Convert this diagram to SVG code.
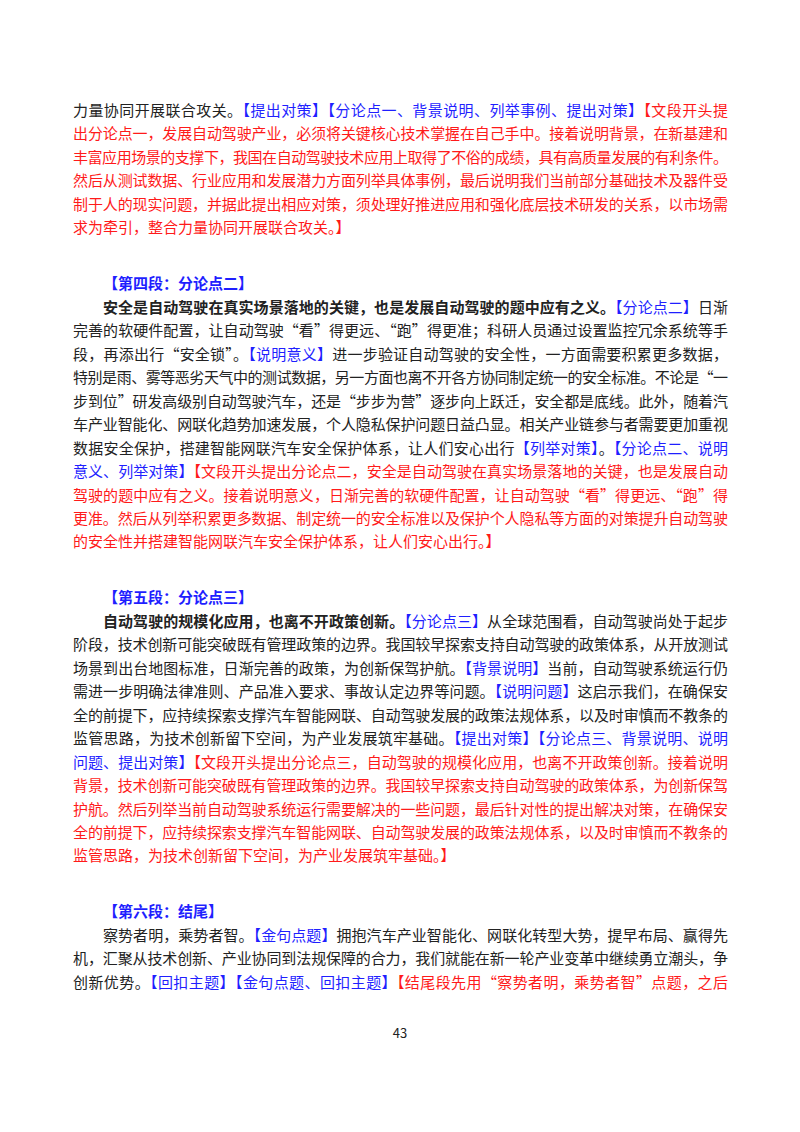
<svg xmlns="http://www.w3.org/2000/svg" width="800" height="1132" viewBox="0 0 800 1132">
<style>
text{font-family:"Microsoft YaHei","Noto Sans CJK SC",sans-serif;font-size:15px;fill:#222}
.b{fill:#1f1fff}.r{fill:#ff1a1a}.bd{font-weight:bold}
.f{}
</style>
<rect width="800" height="1132" fill="#fff"/>
<text x="73" y="115.5" textLength="655" lengthAdjust="spacing">力量协同开展联合攻关。<tspan class="b">【提出对策】【分论点一、背景说明、列举事例、提出对策】</tspan><tspan class="r">【文段开头提</tspan></text>
<text class="r" x="73" y="139" textLength="655" lengthAdjust="spacing">出分论点一，发展自动驾驶产业，必须将关键核心技术掌握在自己手中。接着说明背景，在新基建和</text>
<text class="r" x="73" y="162.5" textLength="655" lengthAdjust="spacing">丰富应用场景的支撑下，我国在自动驾驶技术应用上取得了不俗的成绩，具有高质量发展的有利条件。</text>
<text class="r" x="73" y="186" textLength="655" lengthAdjust="spacing">然后从测试数据、行业应用和发展潜力方面列举具体事例，最后说明我们当前部分基础技术及器件受</text>
<text class="r" x="73" y="209.5" textLength="655" lengthAdjust="spacing">制于人的现实问题，并据此提出相应对策，须处理好推进应用和强化底层技术研发的关系，以市场需</text>
<text class="r" x="73" y="233">求为牵引，整合力量协同开展联合攻关。】</text>

<text class="b bd" x="103" y="289">【第四段：分论点二】</text>
<text x="103" y="312.5" textLength="625" lengthAdjust="spacing"><tspan class="bd">安全是自动驾驶在真实场景落地的关键，也是发展自动驾驶的题中应有之义。</tspan><tspan class="b">【分论点二】</tspan>日渐</text>
<text x="73" y="336" textLength="655" lengthAdjust="spacing">完善的软硬件配置，让自动驾驶“看”得更远、“跑”得更准；科研人员通过设置监控冗余系统等手</text>
<text x="73" y="359.5" textLength="655" lengthAdjust="spacing">段，再添出行“安全锁”。<tspan class="b">【说明意义】</tspan>进一步验证自动驾驶的安全性，一方面需要积累更多数据，</text>
<text x="73" y="383" textLength="655" lengthAdjust="spacing">特别是雨、雾等恶劣天气中的测试数据，另一方面也离不开各方协同制定统一的安全标准。不论是“一</text>
<text x="73" y="406.5" textLength="655" lengthAdjust="spacing">步到位”研发高级别自动驾驶汽车，还是“步步为营”逐步向上跃迁，安全都是底线。此外，随着汽</text>
<text x="73" y="430" textLength="655" lengthAdjust="spacing">车产业智能化、网联化趋势加速发展，个人隐私保护问题日益凸显。相关产业链参与者需要更加重视</text>
<text x="73" y="453.5" textLength="655" lengthAdjust="spacing">数据安全保护，搭建智能网联汽车安全保护体系，让人们安心出行<tspan class="b">【列举对策】</tspan>。<tspan class="b">【分论点二、说明</tspan></text>
<text x="73" y="477" textLength="655" lengthAdjust="spacing"><tspan class="b">意义、列举对策】</tspan><tspan class="r">【文段开头提出分论点二，安全是自动驾驶在真实场景落地的关键，也是发展自动</tspan></text>
<text class="r" x="73" y="500.5" textLength="655" lengthAdjust="spacing">驾驶的题中应有之义。接着说明意义，日渐完善的软硬件配置，让自动驾驶“看”得更远、“跑”得</text>
<text class="r" x="73" y="524" textLength="655" lengthAdjust="spacing">更准。然后从列举积累更多数据、制定统一的安全标准以及保护个人隐私等方面的对策提升自动驾驶</text>
<text class="r" x="73" y="547">的安全性并搭建智能网联汽车安全保护体系，让人们安心出行。】</text>

<text class="b bd" x="103" y="603">【第五段：分论点三】</text>
<text x="103" y="626.5" textLength="625" lengthAdjust="spacing"><tspan class="bd">自动驾驶的规模化应用，也离不开政策创新。</tspan><tspan class="b">【分论点三】</tspan>从全球范围看，自动驾驶尚处于起步</text>
<text x="73" y="650" textLength="655" lengthAdjust="spacing">阶段，技术创新可能突破既有管理政策的边界。我国较早探索支持自动驾驶的政策体系，从开放测试</text>
<text x="73" y="673.5" textLength="655" lengthAdjust="spacing">场景到出台地图标准，日渐完善的政策，为创新保驾护航。<tspan class="b">【背景说明】</tspan>当前，自动驾驶系统运行仍</text>
<text x="73" y="697" textLength="655" lengthAdjust="spacing">需进一步明确法律准则、产品准入要求、事故认定边界等问题。<tspan class="b">【说明问题】</tspan>这启示我们，在确保安</text>
<text x="73" y="720.5" textLength="655" lengthAdjust="spacing">全的前提下，应持续探索支撑汽车智能网联、自动驾驶发展的政策法规体系，以及时审慎而不教条的</text>
<text x="73" y="744" textLength="655" lengthAdjust="spacing">监管思路，为技术创新留下空间，为产业发展筑牢基础。<tspan class="b">【提出对策】【分论点三、背景说明、说明</tspan></text>
<text x="73" y="767.5" textLength="655" lengthAdjust="spacing"><tspan class="b">问题、提出对策】</tspan><tspan class="r">【文段开头提出分论点三，自动驾驶的规模化应用，也离不开政策创新。接着说明</tspan></text>
<text class="r" x="73" y="791" textLength="655" lengthAdjust="spacing">背景，技术创新可能突破既有管理政策的边界。我国较早探索支持自动驾驶的政策体系，为创新保驾</text>
<text class="r" x="73" y="814.5" textLength="655" lengthAdjust="spacing">护航。然后列举当前自动驾驶系统运行需要解决的一些问题，最后针对性的提出解决对策，在确保安</text>
<text class="r" x="73" y="838" textLength="655" lengthAdjust="spacing">全的前提下，应持续探索支撑汽车智能网联、自动驾驶发展的政策法规体系，以及时审慎而不教条的</text>
<text class="r" x="73" y="861">监管思路，为技术创新留下空间，为产业发展筑牢基础。】</text>

<text class="b bd" x="103" y="917">【第六段：结尾】</text>
<text x="103" y="940.5" textLength="625" lengthAdjust="spacing">察势者明，乘势者智。<tspan class="b">【金句点题】</tspan>拥抱汽车产业智能化、网联化转型大势，提早布局、赢得先</text>
<text x="73" y="964" textLength="655" lengthAdjust="spacing">机，汇聚从技术创新、产业协同到法规保障的合力，我们就能在新一轮产业变革中继续勇立潮头，争</text>
<text x="73" y="987.5" textLength="655" lengthAdjust="spacing">创新优势。<tspan class="b">【回扣主题】【金句点题、回扣主题】</tspan><tspan class="r">【结尾段先用“察势者明，乘势者智”点题，之后</tspan></text>

<text x="400" y="1038" text-anchor="middle" style="font-size:13px">43</text>
</svg>
